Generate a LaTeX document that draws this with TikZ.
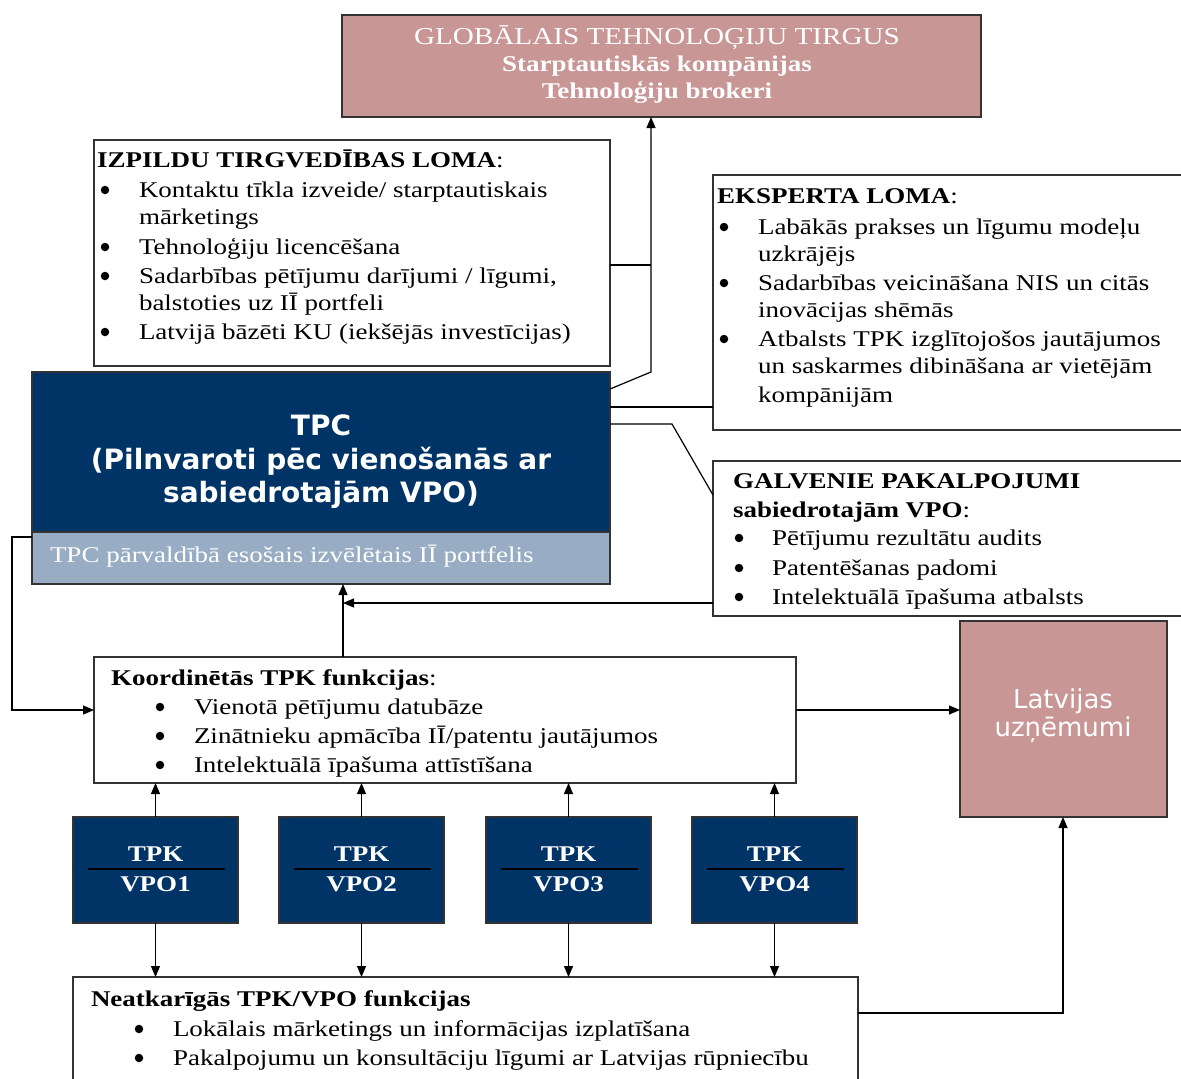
\documentclass[tikz,border=0pt]{standalone}
\usepackage{fontspec}
\setmainfont{Liberation Serif}[FakeStretch=1.2]
\newfontfamily\sansfam{DejaVu Sans}
\usetikzlibrary{arrows.meta}
\definecolor{navy}{HTML}{003366}
\definecolor{stripblue}{HTML}{98ADC3}
\definecolor{rosebox}{HTML}{C99696}
\newcommand\bitem[5]{%
  \node[bulletdot] (#1b) at (#2+4,#4-7) {};
  \node[txt] (#1) at (#3,#4) {#5};}
\begin{document}
\begin{tikzpicture}[x=1pt,y=-1pt,
 box/.style={draw=black!80, line width=1.2pt, inner sep=0pt, outer sep=0pt, anchor=north west},
 txt/.style={inner sep=0pt, outer sep=0pt, anchor=base west, font=\fontsize{22.5}{28}\selectfont},
 btxt/.style={txt, font=\fontsize{22.5}{28}\selectfont\bfseries},
 wtxt/.style={txt, anchor=base, text=white},
 wbtxt/.style={btxt, anchor=base, text=white},
 bulletdot/.style={circle, fill=black, inner sep=0pt, minimum size=8.5pt},
 sanstxt/.style={inner sep=0pt, outer sep=0pt, anchor=base, text=white, font=\sansfam\bfseries\fontsize{28}{33}\selectfont},
 latxt/.style={inner sep=0pt, outer sep=0pt, anchor=base, text=white, font=\sansfam\fontsize{26}{28}\selectfont},
 vrule/.style={draw=black, line width=1.3pt},
 conn/.style={draw=black, line width=1.2pt},
 arr/.style={conn, -{Triangle[length=11pt,width=9pt]}}]
\useasboundingbox (0,0) rectangle (1181,1079);
\fill[white] (0,0) rectangle (1181,1079);

% ---- top box
\node[box, fill=rosebox, minimum width=639pt, minimum height=102pt] (top) at (342,15) {};
\node[wtxt, font=\fontsize{24.3}{28}\selectfont] (top1) at (657,44) {GLOBĀLAIS TEHNOLOĢIJU TIRGUS};
\node[wbtxt] (top2) at (657,71) {Starptautiskās kompānijas};
\node[wbtxt] (top3) at (657,98) {Tehnoloģiju brokeri};

% ---- executive marketing role
\node[box, fill=white, minimum width=516pt, minimum height=226pt] (izp) at (94,140) {};
\node[txt] (izph) at (97,167) {\textbf{IZPILDU TIRGVEDĪBAS LOMA}:};
\bitem{i1}{101}{139}{197}{Kontaktu tīkla izveide/ starptautiskais}
\node[txt] (i1c) at (139,224) {mārketings};
\bitem{i2}{101}{139}{254}{Tehnoloģiju licencēšana}
\bitem{i3}{101}{139}{283}{Sadarbības pētījumu darījumi / līgumi,}
\node[txt] (i3c) at (139,310) {balstoties uz IĪ portfeli};
\bitem{i4}{101}{139}{339}{Latvijā bāzēti KU (iekšējās investīcijas)}

% ---- expert role
\node[box, fill=white, minimum width=480pt, minimum height=255pt] (exp) at (713,175) {};
\node[txt] (exph) at (717,203) {\textbf{EKSPERTA LOMA}:};
\bitem{e1}{720}{758}{234}{Labākās prakses un līgumu modeļu}
\node[txt] (e1c) at (758,261) {uzkrājējs};
\bitem{e2}{720}{758}{290}{Sadarbības veicināšana NIS un citās}
\node[txt] (e2c) at (758,317) {inovācijas shēmās};
\bitem{e3}{720}{758}{346}{Atbalsts TPK izglītojošos jautājumos}
\node[txt] (e3c) at (758,373) {un saskarmes dibināšana ar vietējām};
\node[txt] (e3d) at (758,402) {kompānijām};

% ---- main services
\node[box, fill=white, minimum width=480pt, minimum height=155pt] (svc) at (713,461) {};
\node[txt] (svch) at (733,488) {\textbf{GALVENIE PAKALPOJUMI}};
\node[txt] (svch2) at (733,517) {\textbf{sabiedrotajām VPO}:};
\bitem{s1}{735}{772}{545}{Pētījumu rezultātu audits}
\bitem{s2}{735}{772}{575}{Patentēšanas padomi}
\bitem{s3}{735}{772}{604}{Intelektuālā īpašuma atbalsts}

% ---- TPC
\node[box, fill=navy, minimum width=578pt, minimum height=160pt] (tpc) at (32,372) {};
\node[box, fill=stripblue, minimum width=578pt, minimum height=52pt] (tpcs) at (32,532) {};
\node[sanstxt] (tpc1) at (321,435) {TPC};
\node[sanstxt] (tpc2) at (321,469) {(Pilnvaroti pēc vienošanās ar};
\node[sanstxt] (tpc3) at (321,502) {sabiedrotajām VPO)};
\node[txt, text=white] (tpcst) at (50,562) {TPC pārvaldībā esošais izvēlētais IĪ portfelis};

% ---- coordinated functions
\node[box, fill=white, minimum width=702pt, minimum height=126pt] (coord) at (94,657) {};
\node[txt] (coordh) at (111,685) {\textbf{Koordinētās TPK funkcijas}:};
\bitem{c1}{156}{194}{714}{Vienotā pētījumu datubāze}
\bitem{c2}{156}{194}{743}{Zinātnieku apmācība IĪ/patentu jautājumos}
\bitem{c3}{156}{194}{772}{Intelektuālā īpašuma attīstīšana}

% ---- Latvian companies
\node[box, fill=rosebox, minimum width=207pt, minimum height=196pt] (lat) at (960,621) {};
\node[latxt] (lat1) at (1063,708) {Latvijas};
\node[latxt] (lat2) at (1063,736) {uzņēmumi};

% ---- VPO boxes
\foreach \x/\n in {73/1,279/2,486/3,692/4}{
  \node[box, fill=navy, minimum width=165pt, minimum height=106pt] (v\n) at (\x,817) {};
  \node[wbtxt] (vt\n) at (\x+82.5,861) {TPK};
  \node[wbtxt] (vb\n) at (\x+82.5,891) {VPO\n};
  \draw[vrule] (\x+15,869) -- (\x+152,869);
}

% ---- independent functions
\node[box, fill=white, minimum width=785pt, minimum height=110pt] (bot) at (73,977) {};
\node[txt] (both) at (91,1006) {\textbf{Neatkarīgās TPK/VPO funkcijas}};
\bitem{b1}{135}{173}{1036}{Lokālais mārketings un informācijas izplatīšana}
\bitem{b2}{135}{173}{1065}{Pakalpojumu un konsultāciju līgumi ar Latvijas rūpniecību}

% ---- helper coordinates
\coordinate (ja) at (651,265);
\coordinate (jb0) at (0,389);
\coordinate (jb) at (651,372);
\coordinate (jc) at (0,407);
\coordinate (jd0) at (0,424);
\coordinate (jd) at (672,424);
\coordinate (jd2) at (0,495);
\coordinate (je0) at (0,603);
\coordinate (je) at (343,603);
\coordinate (jf) at (343,0);
\coordinate (jg0) at (0,537);
\coordinate (jg1) at (12,537);
\coordinate (jg2) at (12,710);
\coordinate (jj0) at (0,1013);
\coordinate (jj) at (1063,1013);

% ---- connectors
\draw[conn] (izp.east |- ja) -- (ja);
\draw[arr] (tpc.east |- jb0) -- (jb) -- (jb |- top.south);
\draw[conn] (tpc.east |- jc) -- (exp.west |- jc);
\draw[conn] (tpc.east |- jd0) -- (jd) -- (svc.west |- jd2);
\draw[arr] (svc.west |- je0) -- (je);
\draw[arr] (coord.north -| jf) -- (tpcs.south -| jf);
\draw[arr] (tpcs.west |- jg0) -- (jg1) -- (jg2) -- (coord.west |- jg2);
\draw[arr] (coord.east |- jg2) -- (lat.west |- jg2);
\draw[arr] (bot.east |- jj0) -- (jj) -- (jj |- lat.south);
\foreach \n in {1,2,3,4}{
  \draw[arr] (v\n.north) -- (v\n.north |- coord.south);
  \draw[arr] (v\n.south) -- (v\n.south |- bot.north);
}
\end{tikzpicture}
\end{document}
